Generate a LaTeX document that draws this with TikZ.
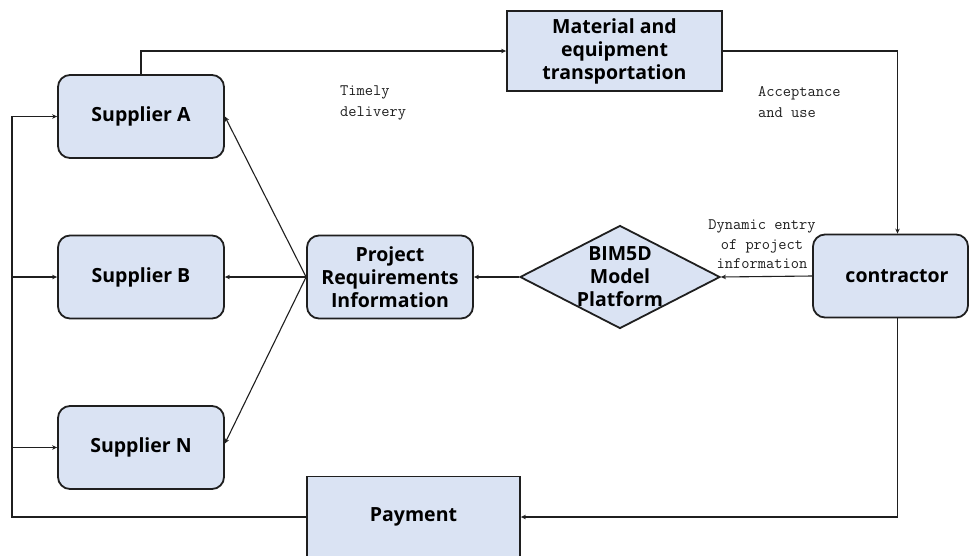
\documentclass[tikz,border=0pt]{standalone}
\usepackage{fontspec}
\setmainfont{Open Sans}
\usetikzlibrary{arrows.meta,shapes.geometric}
\definecolor{boxfill}{HTML}{DAE3F3}
\definecolor{edgec}{HTML}{1F1F1F}
\begin{document}
\begin{tikzpicture}[x=1pt,y=-1pt,
  boxfont/.style={font=\fontsize{19.5}{23}\selectfont\bfseries},
  rbox/.style={draw=edgec, line width=1.8pt, fill=boxfill, rounded corners=12pt,
    minimum width=166pt, minimum height=83pt, inner sep=0pt, align=center, boxfont},
  sbox/.style={draw=edgec, line width=1.8pt, fill=boxfill, inner sep=0pt,
    align=center, boxfont},
  conn/.style={draw=edgec, line width=1.1pt, -{Stealth[length=5pt,width=4.5pt]}},
  lab/.style={font=\ttfamily\fontsize{16}{21}\selectfont, inner sep=0pt, align=left, text=edgec}]
\useasboundingbox[fill=white] (0,0) rectangle (970,555);

\node[rbox] (supA) at (141,116.5) {Supplier A};
\node[rbox] (supB) at (141,277) {Supplier B};
\node[rbox] (supN) at (141,447.5) {Supplier N};
\node[rbox] (pri) at (390,277) {Project\\Requirements\\Information};
\node[sbox, minimum width=215pt, minimum height=80pt] (mat) at (614.5,51) {Material and\\equipment\\transportation};
\node[rbox, minimum width=155pt] (ctr) at (890.5,276) {\hspace*{13pt}contractor};
\node[sbox, minimum width=213pt, minimum height=81pt] (pay) at (413.5,517) {Payment};
\node[diamond, draw=edgec, line width=1.8pt, fill=boxfill, inner sep=0pt,
  minimum width=200pt, minimum height=103pt] (bim) at (620,277) {};
\node[boxfont, align=center, inner sep=0pt] (bimtext) at (bim.center) {BIM5D\\Model\\Platform};

\node[lab, anchor=west] (td) at (340,102.5) {Timely\\delivery};
\node[lab, anchor=west] (au) at (758,102.5) {Acceptance\\and use};
\node[lab, align=center, font=\ttfamily\fontsize{16}{19.5}\selectfont] (dyn) at (762,244.5) {Dynamic entry\\of project\\information};

\draw[conn] (supA.north) |- (mat.west);
\draw[conn] (mat.east) -| ([xshift=7pt]ctr.north);
\draw[conn] ([xshift=7pt]ctr.south) |- (pay.east);
\draw[conn] (ctr.west) -- (bim.east);
\draw[conn] (bim.west) -- (pri.east);
\draw[conn] (pri.west) -- (supA.east);
\draw[conn] (pri.west) -- (supB.east);
\draw[conn] (pri.west) -- ([yshift=4pt]supN.east);
\coordinate (lx) at (12,517);
\draw[conn] (pay.west) -- (lx) |- (supA.west);
\draw[conn] (lx |- supB.west) -- (supB.west);
\draw[conn] (lx |- supN.west) -- (supN.west);
\end{tikzpicture}
\end{document}
